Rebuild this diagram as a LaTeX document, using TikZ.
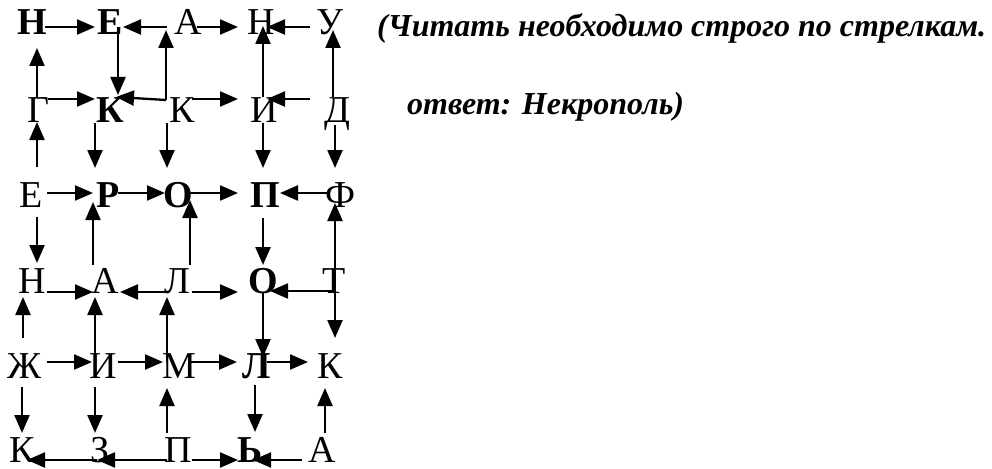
\documentclass[tikz,border=0pt]{standalone}
\usepackage{fontspec}
\setmainfont{Liberation Serif}
\usetikzlibrary{arrows.meta,calc}
\newcommand\myconn[4]{\draw[conn] ($(#1)+(#2)$) -- ($(#3)+(#4)$);}
\begin{document}
\begin{tikzpicture}[x=1pt,y=-1pt,
  letter/.style={inner sep=0pt, text height=25pt, text depth=0pt, font=\fontsize{38}{38}\selectfont},
  bletter/.style={letter, font=\fontsize{38}{38}\selectfont\bfseries},
  note/.style={inner sep=0pt, anchor=base west, font=\fontsize{32}{32}\selectfont\bfseries\itshape},
  conn/.style={line width=2.3pt, -{Triangle[length=18pt,width=15pt]}}]
\useasboundingbox (0,0) rectangle (992,468);
% row 1
\node[bletter] (n11) at (32,22) {Н};
\node[bletter] (n12) at (110,22) {Е};
\node[letter]  (n13) at (188,22) {А};
\node[letter]  (n14) at (261,22) {Н};
\node[letter]  (n15) at (330,22) {У};
% row 2
\node[letter]  (n21) at (38,110) {Г};
\node[bletter] (n22) at (110,110) {К};
\node[letter]  (n23) at (182,110) {К};
\node[letter]  (n24) at (264,110) {И};
\node[letter]  (n25) at (337,110) {Д};
% row 3
\node[letter]  (n31) at (31,195) {Е};
\node[bletter] (n32) at (108,195) {Р};
\node[bletter] (n33) at (178,195) {О};
\node[bletter] (n34) at (265,195) {П};
\node[letter]  (n35) at (341,195) {Ф};
% row 4
\node[letter]  (n41) at (32,281) {Н};
\node[letter]  (n42) at (105,281) {А};
\node[letter]  (n43) at (177,281) {Л};
\node[bletter] (n44) at (263,281) {О};
\node[letter]  (n45) at (334,281) {Т};
% row 5
\node[letter]  (n51) at (25,366) {Ж};
\node[letter]  (n52) at (103,366) {И};
\node[letter]  (n53) at (179,366) {М};
\node[bletter] (n54) at (257,366) {Л};
\node[letter]  (n55) at (330,366) {К};
% row 6
\node[letter]  (n61) at (22,450) {К};
\node[letter]  (n62) at (100,450) {З};
\node[letter]  (n63) at (178,450) {П};
\node[bletter] (n64) at (250,450) {Ь};
\node[letter]  (n65) at (322,450) {А};
% junctions
\coordinate (c1) at ($(n23)+(-16,-10)$);
\coordinate (c2) at ($(n45)+(1,10)$);
% notes
\node[note] (t1) at (377,37) {(Читать необходимо строго по стрелкам.};
\node[note] (t2) at (407,114) {ответ: Некрополь)};
% row 1 connectors
\myconn{n11}{13,5}{n12}{-15,5}
\myconn{n13}{-21,5}{n12}{13,5}
\myconn{n13}{9,5}{n14}{-23,5}
\myconn{n15}{-20,5}{n14}{6,5}
\myconn{n24}{-1,-13}{n14}{2,4}
\myconn{n25}{-4,-13}{n15}{3,8}
\myconn{n21}{-1,-13}{n11}{5,26}
\myconn{n12}{8,5}{n22}{8,-15}
\myconn{c1}{0,0}{n13}{-22,8}
\myconn{c1}{0,0}{n22}{6,-13}
% row 2
\myconn{n21}{10,-11}{n22}{-15,-11}
\myconn{n23}{10,-11}{n24}{-26,-11}
\myconn{n25}{-27,-11}{n24}{3,-11}
\myconn{n31}{6,-28}{n21}{-1,12}
\myconn{n22}{-15,13}{n32}{-13,-27}
\myconn{n23}{-15,13}{n33}{-11,-27}
\myconn{n24}{-1,13}{n34}{-2,-27}
\myconn{n25}{-2,15}{n35}{-6,-27}
% row 3
\myconn{n31}{16,-2}{n32}{-15,-2}
\myconn{n32}{10,-2}{n33}{-13,-2}
\myconn{n33}{12,-2}{n34}{-27,-2}
\myconn{n35}{-13,-2}{n34}{15,-2}
\myconn{n31}{6,22}{n41}{5,-18}
\myconn{n42}{-12,-16}{n32}{-15,7}
\myconn{n43}{13,-16}{n33}{12,5}
\myconn{n34}{-2,23}{n44}{0,-16}
\myconn{c2}{0,0}{n35}{-6,8}
\myconn{c2}{0,0}{n55}{5,-28}
\myconn{c2}{0,0}{n44}{7,10}
% row 4
\myconn{n41}{15,11}{n42}{-12,11}
\myconn{n43}{-10,11}{n42}{15,11}
\myconn{n43}{15,11}{n44}{-25,11}
\myconn{n51}{-2,-28}{n41}{-9,16}
\myconn{n52}{-8,0}{n42}{-10,16}
\myconn{n53}{-12,-4}{n43}{-10,16}
\myconn{n44}{0,11}{n54}{6,-9}
% row 5
\myconn{n51}{22,-4}{n52}{-11,-4}
\myconn{n52}{15,-4}{n53}{-16,-4}
\myconn{n53}{11,-4}{n54}{-20,-4}
\myconn{n54}{10,-4}{n55}{-22,-4}
\myconn{n51}{-3,21}{n61}{0,-17}
\myconn{n52}{-8,21}{n62}{-5,-17}
\myconn{n63}{-11,-17}{n53}{-12,22}
\myconn{n54}{-2,19}{n64}{5,-18}
\myconn{n65}{3,-17}{n55}{-5,22}
% row 6
\myconn{n62}{-3,10}{n61}{5,10}
\myconn{n63}{-11,10}{n62}{-3,10}
\myconn{n63}{14,10}{n64}{-12,10}
\myconn{n65}{-20,10}{n64}{3,10}
\end{tikzpicture}
\end{document}
